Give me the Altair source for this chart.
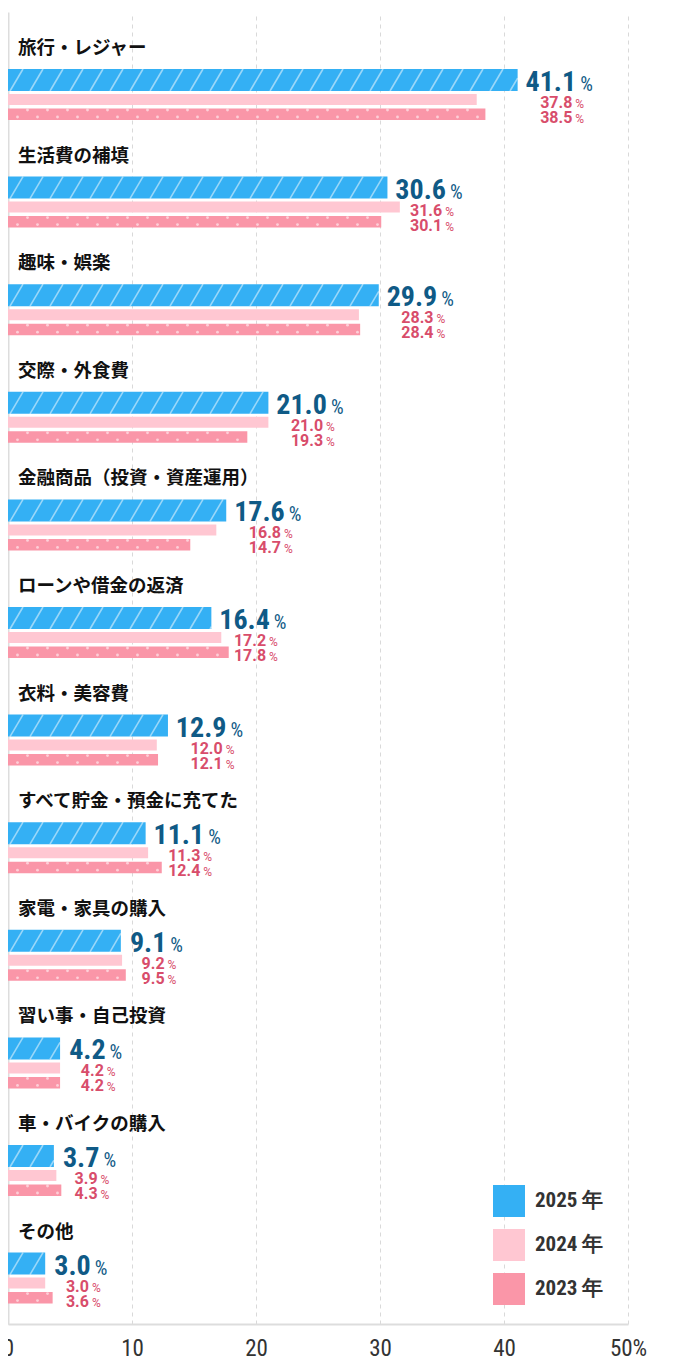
import math
import altair as alt
import pandas as pd

# ---------------- data ----------------
categories = [
    "旅行・レジャー",
    "生活費の補填",
    "趣味・娯楽",
    "交際・外食費",
    "金融商品（投資・資産運用）",
    "ローンや借金の返済",
    "衣料・美容費",
    "すべて貯金・預金に充てた",
    "家電・家具の購入",
    "習い事・自己投資",
    "車・バイクの購入",
    "その他",
]
v2025 = [41.1, 30.6, 29.9, 21.0, 17.6, 16.4, 12.9, 11.1, 9.1, 4.2, 3.7, 3.0]
v2024 = [37.8, 31.6, 28.3, 21.0, 16.8, 17.2, 12.0, 11.3, 9.2, 4.2, 3.9, 3.0]
v2023 = [38.5, 30.1, 28.4, 19.3, 14.7, 17.8, 12.1, 12.4, 9.5, 4.2, 4.3, 3.6]
series = ["2025", "2024", "2023"]
x_ticks = [0, 10, 20, 30, 40, 50]

# ---------------- styles / layout ----------------
colors = ["#34b0f4", "#ffc7d2", "#fa96a8"]
BIG_COLOR = "#0f5a86"
SMALL_COLOR = "#d84d6b"
NUM_FONT = "Liberation Sans Narrow, Roboto Condensed, DejaVu Sans Condensed, Roboto, sans-serif"
SMALL_FONT = "Roboto, sans-serif"
JP_FONT = "Noto Sans CJK JP, sans-serif"

W, H = 620, 1312
XMAX = 50
PX = W / XMAX          # pixels per percent
PITCH = 107.6          # pixels per category group
YMAX = H / PITCH
bar_top = {"2025": 57 / PITCH, "2024": 82 / PITCH, "2023": 96.5 / PITCH}
bar_bot = {"2025": 79 / PITCH, "2024": 93 / PITCH, "2023": 108 / PITCH}
label_mid = 36 / PITCH
big_base = 79 / PITCH
small_base = {"2024": 96 / PITCH, "2023": 111 / PITCH}

values = {"2025": v2025, "2024": v2024, "2023": v2023}

rows = []
for s in series:
    for i, (c, v) in enumerate(zip(categories, values[s])):
        rows.append({"category": c, "series": s, "value": v, "zero": 0,
                     "y": i + bar_top[s], "y2": i + bar_bot[s]})
bars_df = pd.DataFrame(rows)

# diagonal stripes for 2025 bars
STEP, RUN, START = 20.0, 13.0, 2.0
stripes = []
for i, v in enumerate(v2025):
    vpx = v * PX
    k = 0
    while START + STEP * k < vpx - 0.5:
        x0 = START + STEP * k
        x1 = min(x0 + RUN, vpx)
        frac = (x1 - x0) / RUN
        yb = i + bar_bot["2025"]
        yt = i + bar_top["2025"]
        stripes.append({"x": x0 / PX, "x2": x1 / PX, "y": yb, "y2": yb - (yb - yt) * frac})
        k += 1
stripes_df = pd.DataFrame(stripes)

# dots for 2023 bars
dots = []
for i, v in enumerate(v2023):
    vpx = v * PX
    for row_off, y_off in ((19.5, bar_top["2023"] + 1.5 / PITCH), (9.5, bar_top["2023"] + 8.5 / PITCH)):
        k = 0
        while row_off + STEP * k < vpx - 2:
            dots.append({"x": (row_off + STEP * k) / PX, "y": i + y_off})
            k += 1
dots_df = pd.DataFrame(dots)

# label anchors: number right-aligned at anchor, "%" left-aligned just after
def w_big(t):
    return (len(t) - 1) * 13.0 + 6.5

def w_small(t):
    return (len(t) - 1) * 8.98 + 4.2

lab_rows, small_rows = [], []
for i, c in enumerate(categories):
    t = f"{v2025[i]:.1f}"
    L = v2025[i] + 13 / PX
    wb = w_big(t)
    A = L + wb / PX
    C = L + (wb + 4 + 14.6) / 2 / PX
    lab_rows.append({"category": c, "zero": 0, "ly": i + label_mid, "num": t, "ax": A,
                     "by": i + big_base})
    for s in ("2024", "2023"):
        ts = f"{values[s][i]:.1f}"
        ws = w_small(ts)
        S = C - (ws + 3 + 8.8) / 2 / PX
        small_rows.append({"num": ts, "ax": S + ws / PX,
                           "sy": i + small_base[s], "series": s})
lab_df = pd.DataFrame(lab_rows)
small_df = pd.DataFrame(small_rows)

# ---------------- scales / axes ----------------
xscale = alt.Scale(domain=[0, XMAX], nice=False, zero=False)
yscale = alt.Scale(domain=[0, YMAX], nice=False, zero=False, reverse=True)

x_axis = alt.Axis(values=x_ticks, title=None, grid=True, gridDash=[4, 4], gridColor="#d9d9d9",
                  gridWidth=1, ticks=False, tickSize=0, domain=True, domainColor="#dddddd",
                  domainWidth=2, labelFont=NUM_FONT, labelFontSize=23, labelColor="#333333",
                  labelPadding=13, labelFlush=False,
                  labelExpr="datum.value == 50 ? '50%' : datum.label")
y_axis = alt.Axis(title=None, labels=False, ticks=False, grid=False, domain=True,
                  domainColor="#dddddd", domainWidth=2)


def X(field):
    return alt.X(field, scale=xscale, axis=x_axis, title=None)


def Y(field):
    return alt.Y(field, scale=yscale, axis=y_axis, title=None)


bars = alt.Chart(bars_df).mark_bar().encode(
    x=X("value:Q"),
    x2="zero:Q",
    y=Y("y:Q"),
    y2="y2:Q",
    color=alt.Color(
        "series:N",
        scale=alt.Scale(domain=series, range=colors),
        legend=alt.Legend(orient="none", legendX=485, legendY=1173, title=None,
                          symbolType="square", symbolSize=1024, symbolStrokeWidth=0,
                          symbolOpacity=1, rowPadding=12, labelOffset=10,
                          labelFont=NUM_FONT, labelFontSize=21, labelFontWeight="bold",
                          labelColor="#333333", padding=0,
                          labelExpr="datum.label + ' 年'"),
    ),
)

stripe_layer = alt.Chart(stripes_df).mark_rule(color="white", strokeWidth=1.6, opacity=0.5).encode(
    x=X("x:Q"), x2="x2:Q", y=Y("y:Q"), y2="y2:Q",
)

dot_layer = alt.Chart(dots_df).mark_circle(color="white", size=8, opacity=0.55).encode(
    x=X("x:Q"), y=Y("y:Q"),
)

cat_text = alt.Chart(lab_df).mark_text(align="left", baseline="middle", dx=10,
                                       font=JP_FONT, fontSize=18.5, fontWeight="bold",
                                       color="#111111").encode(
    x=X("zero:Q"), y=Y("ly:Q"), text="category:N",
)

big_num = alt.Chart(lab_df).mark_text(align="right", baseline="alphabetic", font=NUM_FONT,
                                      fontSize=28, fontWeight="bold", color=BIG_COLOR).encode(
    x=X("ax:Q"), y=Y("by:Q"), text="num:N",
)
big_pct = alt.Chart(lab_df).mark_text(align="left", baseline="alphabetic", dx=4, font=NUM_FONT,
                                      fontSize=20, color=BIG_COLOR, text="%").encode(
    x=X("ax:Q"), y=Y("by:Q"),
)
small_num = alt.Chart(small_df).mark_text(align="right", baseline="alphabetic", font=SMALL_FONT,
                                          fontSize=16, fontWeight="bold", color=SMALL_COLOR).encode(
    x=X("ax:Q"), y=Y("sy:Q"), text="num:N",
)
small_pct = alt.Chart(small_df).mark_text(align="left", baseline="alphabetic", dx=3, font=SMALL_FONT,
                                          fontSize=12, color=SMALL_COLOR, text="%").encode(
    x=X("ax:Q"), y=Y("sy:Q"),
)

chart = alt.layer(
    bars, stripe_layer, dot_layer, cat_text, big_num, big_pct, small_num, small_pct
).properties(
    width=W, height=H,
    autosize=alt.AutoSizeParams(type="none"),
    padding={"left": 0, "top": 4, "right": 30, "bottom": 38},
).configure_view(strokeWidth=0)

chart.save("out.html", embed_options={"renderer": "svg", "actions": False})
